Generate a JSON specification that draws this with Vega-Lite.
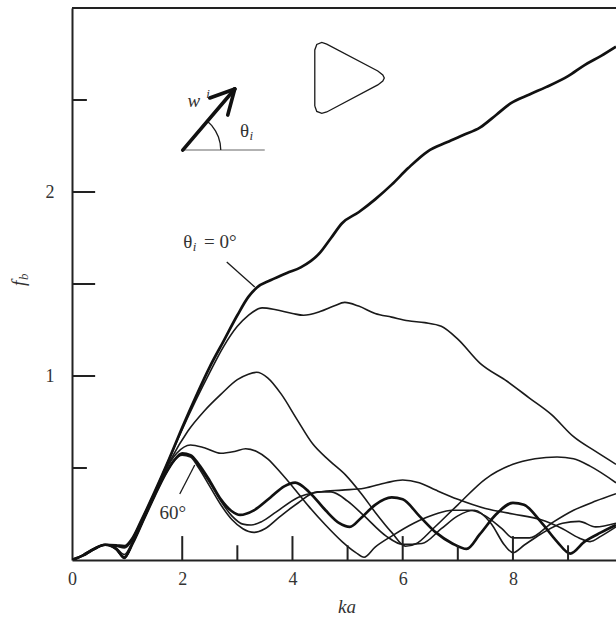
{
"$schema": "https://vega.github.io/schema/vega-lite/v6.json",
"width": 544, "height": 552,
"autosize": {"type": "none"},
"padding": {"left": 72, "top": 8, "right": 0, "bottom": 58},
"background": "white",
"config": {"view": {"stroke": null}, "font": "Liberation Serif"},
"datasets": {
"curves": [
{"s":"0°","ka":0,"fb":0},{"s":"0°","ka":0.2,"fb":0.025},{"s":"0°","ka":0.4,"fb":0.06},{"s":"0°","ka":0.6,"fb":0.083},{"s":"0°","ka":0.8,"fb":0.08},{"s":"0°","ka":0.95,"fb":0.075},{"s":"0°","ka":1.1,"fb":0.12},{"s":"0°","ka":1.25,"fb":0.21},{"s":"0°","ka":1.5,"fb":0.37},{"s":"0°","ka":1.75,"fb":0.54},{"s":"0°","ka":2.0,"fb":0.72},{"s":"0°","ka":2.25,"fb":0.89},{"s":"0°","ka":2.5,"fb":1.05},{"s":"0°","ka":2.75,"fb":1.19},{"s":"0°","ka":3.0,"fb":1.33},{"s":"0°","ka":3.2,"fb":1.43},{"s":"0°","ka":3.35,"fb":1.48},{"s":"0°","ka":3.6,"fb":1.52},{"s":"0°","ka":3.9,"fb":1.56},{"s":"0°","ka":4.15,"fb":1.59},{"s":"0°","ka":4.5,"fb":1.67},{"s":"0°","ka":4.7,"fb":1.75},{"s":"0°","ka":4.9,"fb":1.83},{"s":"0°","ka":5.2,"fb":1.89},{"s":"0°","ka":5.5,"fb":1.96},{"s":"0°","ka":5.8,"fb":2.04},{"s":"0°","ka":6.1,"fb":2.13},{"s":"0°","ka":6.45,"fb":2.22},{"s":"0°","ka":6.8,"fb":2.27},{"s":"0°","ka":7.1,"fb":2.31},{"s":"0°","ka":7.4,"fb":2.35},{"s":"0°","ka":7.7,"fb":2.42},{"s":"0°","ka":7.95,"fb":2.48},{"s":"0°","ka":8.3,"fb":2.53},{"s":"0°","ka":8.6,"fb":2.57},{"s":"0°","ka":9.0,"fb":2.63},{"s":"0°","ka":9.3,"fb":2.69},{"s":"0°","ka":9.6,"fb":2.74},{"s":"0°","ka":9.87,"fb":2.79},
{"s":"10°","ka":0,"fb":0},{"s":"10°","ka":0.2,"fb":0.025},{"s":"10°","ka":0.4,"fb":0.06},{"s":"10°","ka":0.6,"fb":0.083},{"s":"10°","ka":0.8,"fb":0.078},{"s":"10°","ka":0.95,"fb":0.07},{"s":"10°","ka":1.1,"fb":0.12},{"s":"10°","ka":1.25,"fb":0.21},{"s":"10°","ka":1.5,"fb":0.37},{"s":"10°","ka":1.75,"fb":0.54},{"s":"10°","ka":2.0,"fb":0.71},{"s":"10°","ka":2.25,"fb":0.87},{"s":"10°","ka":2.5,"fb":1.02},{"s":"10°","ka":2.75,"fb":1.16},{"s":"10°","ka":3.0,"fb":1.27},{"s":"10°","ka":3.2,"fb":1.33},{"s":"10°","ka":3.45,"fb":1.37},{"s":"10°","ka":3.7,"fb":1.36},{"s":"10°","ka":4.0,"fb":1.34},{"s":"10°","ka":4.2,"fb":1.33},{"s":"10°","ka":4.5,"fb":1.35},{"s":"10°","ka":4.75,"fb":1.38},{"s":"10°","ka":4.95,"fb":1.4},{"s":"10°","ka":5.2,"fb":1.38},{"s":"10°","ka":5.5,"fb":1.34},{"s":"10°","ka":5.8,"fb":1.32},{"s":"10°","ka":6.1,"fb":1.3},{"s":"10°","ka":6.4,"fb":1.29},{"s":"10°","ka":6.7,"fb":1.27},{"s":"10°","ka":7.0,"fb":1.2},{"s":"10°","ka":7.4,"fb":1.07},{"s":"10°","ka":7.9,"fb":0.97},{"s":"10°","ka":8.3,"fb":0.88},{"s":"10°","ka":8.7,"fb":0.79},{"s":"10°","ka":9.1,"fb":0.67},{"s":"10°","ka":9.5,"fb":0.59},{"s":"10°","ka":9.87,"fb":0.52},
{"s":"20°","ka":0,"fb":0},{"s":"20°","ka":0.2,"fb":0.025},{"s":"20°","ka":0.4,"fb":0.06},{"s":"20°","ka":0.6,"fb":0.083},{"s":"20°","ka":0.8,"fb":0.075},{"s":"20°","ka":0.95,"fb":0.065},{"s":"20°","ka":1.1,"fb":0.11},{"s":"20°","ka":1.25,"fb":0.2},{"s":"20°","ka":1.5,"fb":0.36},{"s":"20°","ka":1.8,"fb":0.55},{"s":"20°","ka":2.1,"fb":0.7},{"s":"20°","ka":2.4,"fb":0.81},{"s":"20°","ka":2.7,"fb":0.9},{"s":"20°","ka":3.0,"fb":0.98},{"s":"20°","ka":3.2,"fb":1.01},{"s":"20°","ka":3.35,"fb":1.02},{"s":"20°","ka":3.55,"fb":0.99},{"s":"20°","ka":3.8,"fb":0.9},{"s":"20°","ka":4.07,"fb":0.77},{"s":"20°","ka":4.37,"fb":0.63},{"s":"20°","ka":4.67,"fb":0.54},{"s":"20°","ka":4.97,"fb":0.46},{"s":"20°","ka":5.25,"fb":0.36},{"s":"20°","ka":5.5,"fb":0.26},{"s":"20°","ka":5.8,"fb":0.15},{"s":"20°","ka":6.05,"fb":0.075},{"s":"20°","ka":6.25,"fb":0.09},{"s":"20°","ka":6.55,"fb":0.17},{"s":"20°","ka":7.0,"fb":0.3},{"s":"20°","ka":7.5,"fb":0.44},{"s":"20°","ka":8.0,"fb":0.52},{"s":"20°","ka":8.4,"fb":0.55},{"s":"20°","ka":8.8,"fb":0.56},{"s":"20°","ka":9.1,"fb":0.55},{"s":"20°","ka":9.4,"fb":0.51},{"s":"20°","ka":9.87,"fb":0.42},
{"s":"30°","ka":0,"fb":0},{"s":"30°","ka":0.2,"fb":0.025},{"s":"30°","ka":0.4,"fb":0.06},{"s":"30°","ka":0.6,"fb":0.083},{"s":"30°","ka":0.8,"fb":0.065},{"s":"30°","ka":0.95,"fb":0.03},{"s":"30°","ka":1.1,"fb":0.1},{"s":"30°","ka":1.3,"fb":0.22},{"s":"30°","ka":1.5,"fb":0.36},{"s":"30°","ka":1.7,"fb":0.49},{"s":"30°","ka":1.9,"fb":0.58},{"s":"30°","ka":2.15,"fb":0.625},{"s":"30°","ka":2.4,"fb":0.61},{"s":"30°","ka":2.7,"fb":0.58},{"s":"30°","ka":2.95,"fb":0.59},{"s":"30°","ka":3.15,"fb":0.605},{"s":"30°","ka":3.35,"fb":0.59},{"s":"30°","ka":3.55,"fb":0.55},{"s":"30°","ka":3.8,"fb":0.47},{"s":"30°","ka":4.0,"fb":0.4},{"s":"30°","ka":4.3,"fb":0.29},{"s":"30°","ka":4.6,"fb":0.19},{"s":"30°","ka":4.9,"fb":0.1},{"s":"30°","ka":5.15,"fb":0.04},{"s":"30°","ka":5.3,"fb":0.015},{"s":"30°","ka":5.5,"fb":0.07},{"s":"30°","ka":5.8,"fb":0.13},{"s":"30°","ka":6.2,"fb":0.2},{"s":"30°","ka":6.6,"fb":0.25},{"s":"30°","ka":6.9,"fb":0.27},{"s":"30°","ka":7.2,"fb":0.27},{"s":"30°","ka":7.5,"fb":0.24},{"s":"30°","ka":7.8,"fb":0.17},{"s":"30°","ka":8.0,"fb":0.12},{"s":"30°","ka":8.3,"fb":0.12},{"s":"30°","ka":8.7,"fb":0.2},{"s":"30°","ka":9.1,"fb":0.27},{"s":"30°","ka":9.5,"fb":0.32},{"s":"30°","ka":9.87,"fb":0.36},
{"s":"40°","ka":0,"fb":0},{"s":"40°","ka":0.2,"fb":0.025},{"s":"40°","ka":0.4,"fb":0.06},{"s":"40°","ka":0.6,"fb":0.083},{"s":"40°","ka":0.8,"fb":0.06},{"s":"40°","ka":0.95,"fb":0.01},{"s":"40°","ka":1.1,"fb":0.09},{"s":"40°","ka":1.3,"fb":0.22},{"s":"40°","ka":1.5,"fb":0.35},{"s":"40°","ka":1.7,"fb":0.47},{"s":"40°","ka":1.85,"fb":0.54},{"s":"40°","ka":2.0,"fb":0.575},{"s":"40°","ka":2.15,"fb":0.565},{"s":"40°","ka":2.3,"fb":0.51},{"s":"40°","ka":2.5,"fb":0.42},{"s":"40°","ka":2.7,"fb":0.32},{"s":"40°","ka":2.9,"fb":0.24},{"s":"40°","ka":3.1,"fb":0.195},{"s":"40°","ka":3.25,"fb":0.19},{"s":"40°","ka":3.45,"fb":0.21},{"s":"40°","ka":3.7,"fb":0.26},{"s":"40°","ka":4.1,"fb":0.34},{"s":"40°","ka":4.5,"fb":0.37},{"s":"40°","ka":4.9,"fb":0.38},{"s":"40°","ka":5.3,"fb":0.39},{"s":"40°","ka":5.7,"fb":0.42},{"s":"40°","ka":6.0,"fb":0.435},{"s":"40°","ka":6.3,"fb":0.42},{"s":"40°","ka":6.6,"fb":0.38},{"s":"40°","ka":7.0,"fb":0.33},{"s":"40°","ka":7.5,"fb":0.28},{"s":"40°","ka":8.0,"fb":0.25},{"s":"40°","ka":8.5,"fb":0.22},{"s":"40°","ka":8.9,"fb":0.17},{"s":"40°","ka":9.2,"fb":0.12},{"s":"40°","ka":9.4,"fb":0.1},{"s":"40°","ka":9.6,"fb":0.13},{"s":"40°","ka":9.87,"fb":0.18},
{"s":"50°","ka":0,"fb":0},{"s":"50°","ka":0.2,"fb":0.025},{"s":"50°","ka":0.4,"fb":0.06},{"s":"50°","ka":0.6,"fb":0.083},{"s":"50°","ka":0.8,"fb":0.058},{"s":"50°","ka":0.95,"fb":0.008},{"s":"50°","ka":1.1,"fb":0.09},{"s":"50°","ka":1.3,"fb":0.22},{"s":"50°","ka":1.5,"fb":0.35},{"s":"50°","ka":1.7,"fb":0.47},{"s":"50°","ka":1.85,"fb":0.54},{"s":"50°","ka":2.0,"fb":0.57},{"s":"50°","ka":2.15,"fb":0.56},{"s":"50°","ka":2.3,"fb":0.5},{"s":"50°","ka":2.5,"fb":0.4},{"s":"50°","ka":2.7,"fb":0.3},{"s":"50°","ka":2.9,"fb":0.22},{"s":"50°","ka":3.1,"fb":0.17},{"s":"50°","ka":3.3,"fb":0.15},{"s":"50°","ka":3.5,"fb":0.17},{"s":"50°","ka":3.75,"fb":0.23},{"s":"50°","ka":4.1,"fb":0.31},{"s":"50°","ka":4.45,"fb":0.37},{"s":"50°","ka":4.7,"fb":0.37},{"s":"50°","ka":5.0,"fb":0.32},{"s":"50°","ka":5.3,"fb":0.24},{"s":"50°","ka":5.7,"fb":0.13},{"s":"50°","ka":6.0,"fb":0.085},{"s":"50°","ka":6.35,"fb":0.09},{"s":"50°","ka":6.7,"fb":0.17},{"s":"50°","ka":7.0,"fb":0.24},{"s":"50°","ka":7.3,"fb":0.27},{"s":"50°","ka":7.6,"fb":0.2},{"s":"50°","ka":7.85,"fb":0.08},{"s":"50°","ka":8.0,"fb":0.04},{"s":"50°","ka":8.2,"fb":0.08},{"s":"50°","ka":8.5,"fb":0.14},{"s":"50°","ka":8.9,"fb":0.2},{"s":"50°","ka":9.2,"fb":0.21},{"s":"50°","ka":9.5,"fb":0.18},{"s":"50°","ka":9.87,"fb":0.2},
{"s":"60°","ka":0,"fb":0},{"s":"60°","ka":0.2,"fb":0.025},{"s":"60°","ka":0.4,"fb":0.06},{"s":"60°","ka":0.6,"fb":0.083},{"s":"60°","ka":0.8,"fb":0.06},{"s":"60°","ka":0.95,"fb":0.015},{"s":"60°","ka":1.1,"fb":0.09},{"s":"60°","ka":1.3,"fb":0.22},{"s":"60°","ka":1.5,"fb":0.35},{"s":"60°","ka":1.7,"fb":0.47},{"s":"60°","ka":1.85,"fb":0.54},{"s":"60°","ka":2.0,"fb":0.58},{"s":"60°","ka":2.15,"fb":0.57},{"s":"60°","ka":2.3,"fb":0.52},{"s":"60°","ka":2.5,"fb":0.43},{"s":"60°","ka":2.7,"fb":0.33},{"s":"60°","ka":2.9,"fb":0.265},{"s":"60°","ka":3.05,"fb":0.245},{"s":"60°","ka":3.3,"fb":0.27},{"s":"60°","ka":3.6,"fb":0.34},{"s":"60°","ka":3.85,"fb":0.4},{"s":"60°","ka":4.05,"fb":0.42},{"s":"60°","ka":4.3,"fb":0.37},{"s":"60°","ka":4.6,"fb":0.27},{"s":"60°","ka":4.85,"fb":0.2},{"s":"60°","ka":5.04,"fb":0.18},{"s":"60°","ka":5.25,"fb":0.23},{"s":"60°","ka":5.5,"fb":0.3},{"s":"60°","ka":5.8,"fb":0.34},{"s":"60°","ka":6.0,"fb":0.33},{"s":"60°","ka":6.3,"fb":0.24},{"s":"60°","ka":6.6,"fb":0.15},{"s":"60°","ka":6.9,"fb":0.09},{"s":"60°","ka":7.16,"fb":0.06},{"s":"60°","ka":7.4,"fb":0.14},{"s":"60°","ka":7.7,"fb":0.25},{"s":"60°","ka":8.0,"fb":0.31},{"s":"60°","ka":8.2,"fb":0.3},{"s":"60°","ka":8.5,"fb":0.21},{"s":"60°","ka":8.8,"fb":0.1},{"s":"60°","ka":9.04,"fb":0.035},{"s":"60°","ka":9.3,"fb":0.1},{"s":"60°","ka":9.6,"fb":0.15},{"s":"60°","ka":9.87,"fb":0.19}
],
"shapes": [
{"shape":"triangle","o":1,"ka":4.405,"fb":2.467},{"shape":"triangle","o":2,"ka":4.405,"fb":2.772},{"shape":"triangle","o":3,"ka":4.441,"fb":2.802},{"shape":"triangle","o":4,"ka":4.532,"fb":2.813},{"shape":"triangle","o":5,"ka":4.622,"fb":2.804},{"shape":"triangle","o":6,"ka":5.548,"fb":2.658},{"shape":"triangle","o":7,"ka":5.639,"fb":2.636},{"shape":"triangle","o":8,"ka":5.666,"fb":2.62},{"shape":"triangle","o":9,"ka":5.639,"fb":2.603},{"shape":"triangle","o":10,"ka":5.548,"fb":2.582},{"shape":"triangle","o":11,"ka":4.622,"fb":2.435},{"shape":"triangle","o":12,"ka":4.532,"fb":2.427},{"shape":"triangle","o":13,"ka":4.441,"fb":2.438},{"shape":"triangle","o":14,"ka":4.405,"fb":2.467},
{"shape":"arc","o":1,"ka":2.699,"fb":2.228},{"shape":"arc","o":2,"ka":2.688,"fb":2.264},{"shape":"arc","o":3,"ka":2.657,"fb":2.299},{"shape":"arc","o":4,"ka":2.606,"fb":2.331},{"shape":"arc","o":5,"ka":2.537,"fb":2.361},{"shape":"arc","o":6,"ka":2.452,"fb":2.386}
],
"arrow": [
{"part":"shaft","ka":2.009,"fb":2.228,"ka2":2.953,"fb2":2.56},
{"part":"barb1","ka":2.953,"fb":2.56,"ka2":2.499,"fb2":2.511},
{"part":"barb2","ka":2.953,"fb":2.56,"ka2":2.826,"fb2":2.418}
],
"leaders": [
{"label":"0°","ka":2.808,"fb":1.62,"ka2":3.316,"fb2":1.484},
{"label":"60°","ka":1.955,"fb":0.359,"ka2":2.227,"fb2":0.516}
],
"textMain": [
{"t":"θ","ka":2.1,"fb":1.728},
{"t":"= 0°","ka":2.69,"fb":1.728},
{"t":"60°","ka":1.827,"fb":0.255},
{"t":"θ","ka":3.13,"fb":2.329}
],
"textSmall": [
{"t":"i","ka":2.225,"fb":1.70},
{"t":"i","ka":3.255,"fb":2.302},
{"t":"i","ka":2.47,"fb":2.535}
],
"textItal": [
{"t":"w","ka":2.21,"fb":2.497},
{"t":"ka","ka":4.99,"fb":-0.258}
]
},
"layer": [
{
"data": {"name": "curves"},
"transform": [{"filter": "datum.s != '0°' && datum.s != '60°'"}],
"mark": {"type": "line", "interpolate": "monotone", "color": "#1a1a1a", "strokeWidth": 1.6, "clip": true},
"encoding": {
"x": {"field": "ka", "type": "quantitative", "scale": {"domain": [0, 9.87], "nice": false, "zero": false},
"axis": {"values": [0, 2, 4, 6, 8], "format": "d", "ticks": false, "grid": false, "domainColor": "#222", "domainWidth": 2, "labelFont": "Liberation Serif", "labelFontSize": 18, "labelColor": "#333", "labelPadding": 10, "title": null, "labelFlush": false}},
"y": {"field": "fb", "type": "quantitative", "scale": {"domain": [0, 3], "nice": false},
"axis": {"values": [1, 2], "format": "d", "ticks": false, "grid": false, "domainColor": "#222", "domainWidth": 2, "labelFont": "Liberation Serif", "labelFontSize": 18, "labelColor": "#333", "labelPadding": 18, "title": null}},
"detail": {"field": "s"}
}
},
{
"data": {"name": "curves"},
"transform": [{"filter": "datum.s == '0°' || datum.s == '60°'"}],
"mark": {"type": "line", "interpolate": "monotone", "color": "#111", "strokeWidth": 2.7, "clip": true},
"encoding": {
"x": {"field": "ka", "type": "quantitative"},
"y": {"field": "fb", "type": "quantitative"},
"detail": {"field": "s"}
}
},
{
"data": {"values": [{"ka": 2}, {"ka": 4}, {"ka": 6}, {"ka": 8}]},
"mark": {"type": "rule", "color": "#222", "strokeWidth": 2},
"encoding": {"x": {"field": "ka", "type": "quantitative"}, "y": {"datum": 0}, "y2": {"datum": 0.13}}
},
{
"data": {"values": [{"ka": 3}, {"ka": 5}, {"ka": 7}, {"ka": 9}]},
"mark": {"type": "rule", "color": "#222", "strokeWidth": 2},
"encoding": {"x": {"field": "ka", "type": "quantitative"}, "y": {"datum": 0}, "y2": {"datum": 0.08}}
},
{
"data": {"values": [{"fb": 1}, {"fb": 1.5}, {"fb": 2}]},
"mark": {"type": "rule", "color": "#222", "strokeWidth": 2},
"encoding": {"y": {"field": "fb", "type": "quantitative"}, "x": {"datum": 0}, "x2": {"datum": 0.42}}
},
{
"data": {"values": [{"fb": 0.5}, {"fb": 2.5}]},
"mark": {"type": "rule", "color": "#222", "strokeWidth": 2},
"encoding": {"y": {"field": "fb", "type": "quantitative"}, "x": {"datum": 0}, "x2": {"datum": 0.27}}
},
{
"data": {"values": [{"fb": 3}]},
"mark": {"type": "rule", "color": "#222", "strokeWidth": 2.2},
"encoding": {"y": {"field": "fb", "type": "quantitative"}, "x": {"datum": 0}, "x2": {"datum": 9.87}}
},
{
"data": {"values": [{"ka": 2.009, "ka2": 3.497, "fb": 2.228}]},
"mark": {"type": "rule", "color": "#999", "strokeWidth": 1.4},
"encoding": {"x": {"field": "ka", "type": "quantitative"}, "x2": {"field": "ka2"}, "y": {"field": "fb", "type": "quantitative"}}
},
{
"data": {"name": "shapes"},
"mark": {"type": "line", "color": "#1a1a1a", "strokeWidth": 1.3, "interpolate": "linear"},
"encoding": {"x": {"field": "ka", "type": "quantitative"}, "y": {"field": "fb", "type": "quantitative"}, "order": {"field": "o"}, "detail": {"field": "shape"}}
},
{
"data": {"name": "arrow"},
"mark": {"type": "rule", "color": "#111", "strokeWidth": 3.6, "strokeCap": "round"},
"encoding": {"x": {"field": "ka", "type": "quantitative"}, "y": {"field": "fb", "type": "quantitative"}, "x2": {"field": "ka2"}, "y2": {"field": "fb2"}}
},
{
"data": {"name": "leaders"},
"mark": {"type": "rule", "color": "#1a1a1a", "strokeWidth": 1.3},
"encoding": {"x": {"field": "ka", "type": "quantitative"}, "y": {"field": "fb", "type": "quantitative"}, "x2": {"field": "ka2"}, "y2": {"field": "fb2"}}
},
{
"data": {"name": "textMain"},
"mark": {"type": "text", "font": "Liberation Serif", "fontSize": 19, "color": "#333", "baseline": "middle", "align": "center"},
"encoding": {"x": {"field": "ka", "type": "quantitative"}, "y": {"field": "fb", "type": "quantitative"}, "text": {"field": "t"}}
},
{
"data": {"name": "textSmall"},
"mark": {"type": "text", "font": "Liberation Serif", "fontSize": 13, "fontStyle": "italic", "color": "#333", "baseline": "middle", "align": "center"},
"encoding": {"x": {"field": "ka", "type": "quantitative"}, "y": {"field": "fb", "type": "quantitative"}, "text": {"field": "t"}}
},
{
"data": {"name": "textItal"},
"mark": {"type": "text", "font": "Liberation Serif", "fontSize": 19, "fontStyle": "italic", "color": "#333", "baseline": "middle", "align": "center"},
"encoding": {"x": {"field": "ka", "type": "quantitative"}, "y": {"field": "fb", "type": "quantitative"}, "text": {"field": "t"}}
},
{
"data": {"values": [{"t": "f", "ka": -0.97, "fb": 1.503}]},
"mark": {"type": "text", "font": "Liberation Serif", "fontSize": 19, "fontStyle": "italic", "color": "#333", "baseline": "middle", "align": "center", "angle": 270},
"encoding": {"x": {"field": "ka", "type": "quantitative"}, "y": {"field": "fb", "type": "quantitative"}, "text": {"field": "t"}}
},
{
"data": {"values": [{"t": "b", "ka": -0.87, "fb": 1.54}]},
"mark": {"type": "text", "font": "Liberation Serif", "fontSize": 13, "fontStyle": "italic", "color": "#333", "baseline": "middle", "align": "center", "angle": 270},
"encoding": {"x": {"field": "ka", "type": "quantitative"}, "y": {"field": "fb", "type": "quantitative"}, "text": {"field": "t"}}
}
]
}
